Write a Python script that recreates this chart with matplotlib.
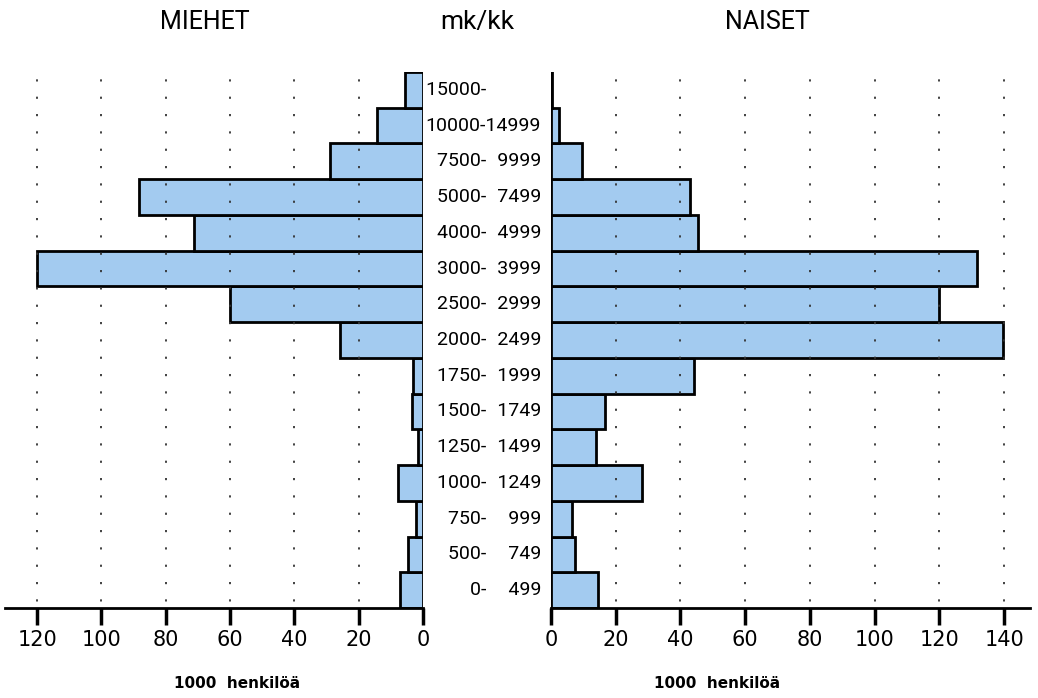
import matplotlib.pyplot as plt

# tuloluokat (mk/kk), alhaalta ylös
luokka_alku = ['0-', '500-', '750-', '1000-', '1250-', '1500-', '1750-', '2000-',
               '2500-', '3000-', '4000-', '5000-', '7500-', '10000-', '15000-']
luokka_loppu = ['499', '749', '999', '1249', '1499', '1749', '1999', '2499',
                '2999', '3999', '4999', '7499', '9999', '14999', '']

# 1000 henkilöä
miehet = [7.2, 4.6, 2.3, 7.8, 1.7, 3.5, 3.0, 25.8,
          60.0, 120.0, 71.2, 88.3, 28.9, 14.2, 5.6]
naiset = [14.6, 7.4, 6.5, 28.2, 13.9, 16.7, 44.3, 139.6,
          119.8, 131.6, 45.5, 43.0, 9.6, 2.5, 0.4]

vari = '#a3cbf0'
kapea = ['Roboto', 'DejaVu Sans']

fig = plt.figure(figsize=(10.38, 6.98), dpi=100)
ax_m = fig.add_axes([5 / 1038, 90 / 698, 418 / 1038, 536 / 698])
ax_n = fig.add_axes([551 / 1038, 90 / 698, 479 / 1038, 536 / 698])

y = list(range(len(miehet)))

for ax, arvot, raja, tikit in [(ax_m, miehet, 130, range(0, 121, 20)),
                                (ax_n, naiset, 148, range(0, 141, 20))]:
    ax.barh(y, arvot, height=1.0, color=vari, edgecolor='black',
            linewidth=2, zorder=2)
    ax.set_ylim(-0.5, len(arvot) - 0.5)
    ax.set_xlim(0, raja)
    ax.set_xticks(list(tikit))
    ax.set_yticks([])
    for s in ['top', 'left', 'right']:
        ax.spines[s].set_visible(False)
    ax.spines['bottom'].set_linewidth(2)
    ax.spines['bottom'].set_zorder(4)
    ax.tick_params(axis='x', direction='out', length=12, width=2.5,
                   labelsize=15, pad=4)
    for t in tikit:
        if t > 0:
            ax.axvline(t, color='#333333', linestyle=(6, (1.2, 8.4)),
                       linewidth=1.3, zorder=3)
    ax.patch.set_alpha(0)

ax_m.invert_xaxis()

# keskellä olevat luokkatekstit, numeroleveä välilyönti tasaa sarakkeet
for i in y:
    yy = (90 + (i + 0.5) * 536 / 15) / 698
    teksti = luokka_alku[i] + '\u2007' * (5 - len(luokka_loppu[i])) + luokka_loppu[i]
    fig.text(541 / 1038, yy, teksti, ha='right', va='center',
             fontsize=14, family=kapea)

fig.text(205 / 1038, 1 - 22 / 698, 'MIEHET', ha='center', va='center',
         fontsize=18, family=kapea)
fig.text(477 / 1038, 1 - 22 / 698, 'mk/kk', ha='center', va='center',
         fontsize=19, family=kapea)
fig.text(767 / 1038, 1 - 22 / 698, 'NAISET', ha='center', va='center',
         fontsize=18, family=kapea)

fig.text(237 / 1038, 1 - 683 / 698, '1000  henkilöä', ha='center',
         va='center', fontsize=11, fontweight='bold')
fig.text(717 / 1038, 1 - 683 / 698, '1000  henkilöä', ha='center',
         va='center', fontsize=11, fontweight='bold')

plt.savefig('out.png', dpi=100)
